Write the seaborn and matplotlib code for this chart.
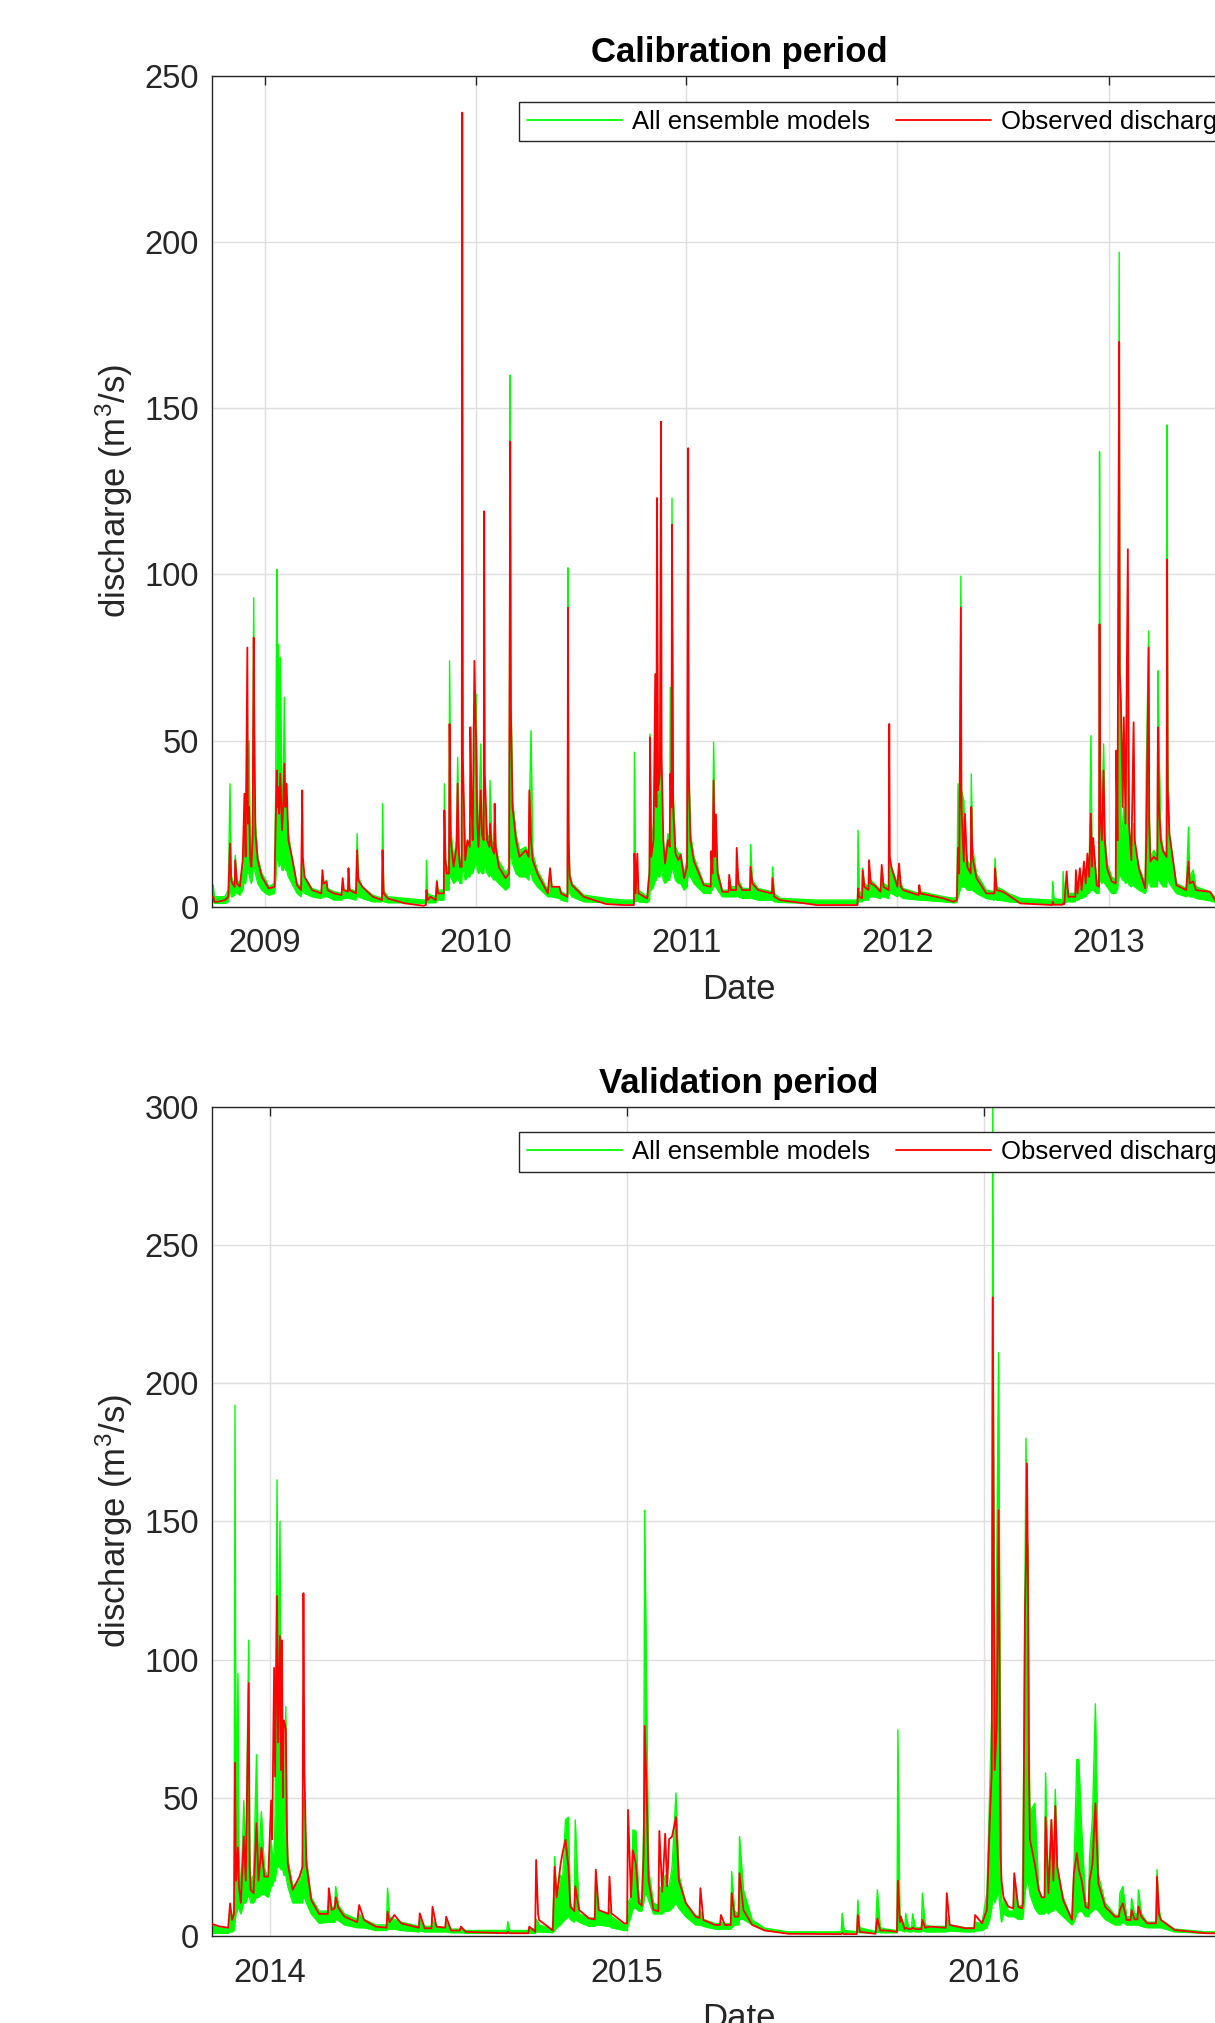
import matplotlib
matplotlib.use("Agg")
import matplotlib.pyplot as plt
import matplotlib.dates as mdates
from matplotlib.lines import Line2D
import seaborn as sns
import pandas as pd

# ---- calibration period (Oct 2008 - Sep 2013), discharge in m3/s ----
cal_dates = [
    "2008-10-01", "2008-10-04", "2008-10-06", "2008-10-13", "2008-10-24", "2008-10-30", "2008-11-02", "2008-11-04",
    "2008-11-06", "2008-11-11", "2008-11-14", "2008-11-19", "2008-11-24", "2008-11-27", "2008-11-29", "2008-12-02",
    "2008-12-03", "2008-12-05", "2008-12-07", "2008-12-09", "2008-12-11", "2008-12-13", "2008-12-14", "2008-12-16",
    "2008-12-20", "2008-12-27", "2009-01-03", "2009-01-08", "2009-01-18", "2009-01-20", "2009-01-22", "2009-01-23",
    "2009-01-25", "2009-01-26", "2009-01-28", "2009-01-31", "2009-02-02", "2009-02-04", "2009-02-06", "2009-02-08",
    "2009-02-11", "2009-02-17", "2009-02-26", "2009-03-05", "2009-03-07", "2009-03-08", "2009-03-11", "2009-03-24",
    "2009-04-09", "2009-04-11", "2009-04-13", "2009-04-18", "2009-04-20", "2009-05-01", "2009-05-14", "2009-05-16",
    "2009-05-18", "2009-05-26", "2009-05-28", "2009-06-08", "2009-06-10", "2009-06-12", "2009-06-19", "2009-07-07",
    "2009-07-23", "2009-07-24", "2009-07-26", "2009-08-02", "2009-09-01", "2009-10-03", "2009-10-07", "2009-10-08",
    "2009-10-10", "2009-10-15", "2009-10-24", "2009-10-26", "2009-10-28", "2009-11-01", "2009-11-08", "2009-11-10",
    "2009-11-12", "2009-11-17", "2009-11-19", "2009-11-24", "2009-11-29", "2009-12-01", "2009-12-03", "2009-12-05",
    "2009-12-09", "2009-12-10", "2009-12-14", "2009-12-18", "2009-12-23", "2009-12-25", "2009-12-27", "2009-12-30",
    "2010-01-02", "2010-01-04", "2010-01-06", "2010-01-10", "2010-01-12", "2010-01-16", "2010-01-17", "2010-01-21",
    "2010-01-26", "2010-01-29", "2010-02-03", "2010-02-05", "2010-02-10", "2010-02-22", "2010-02-28", "2010-03-02",
    "2010-03-03", "2010-03-06", "2010-03-12", "2010-03-18", "2010-03-29", "2010-04-04", "2010-04-07", "2010-04-10",
    "2010-04-18", "2010-05-06", "2010-05-10", "2010-05-13", "2010-05-26", "2010-05-29", "2010-06-09", "2010-06-10",
    "2010-06-11", "2010-06-13", "2010-06-17", "2010-07-07", "2010-08-15", "2010-09-15", "2010-10-02", "2010-10-03",
    "2010-10-05", "2010-10-08", "2010-10-10", "2010-10-25", "2010-10-29", "2010-10-30", "2010-11-01", "2010-11-05",
    "2010-11-08", "2010-11-10", "2010-11-11", "2010-11-13", "2010-11-16", "2010-11-18", "2010-11-19", "2010-11-22",
    "2010-11-25", "2010-11-30", "2010-12-04", "2010-12-06", "2010-12-07", "2010-12-09", "2010-12-13", "2010-12-18",
    "2010-12-22", "2010-12-28", "2011-01-02", "2011-01-04", "2011-01-05", "2011-01-08", "2011-01-14", "2011-01-31",
    "2011-02-13", "2011-02-15", "2011-02-17", "2011-02-19", "2011-02-21", "2011-02-24", "2011-03-04", "2011-03-16",
    "2011-03-19", "2011-03-29", "2011-04-01", "2011-04-08", "2011-04-22", "2011-04-25", "2011-05-05", "2011-05-30",
    "2011-06-02", "2011-06-12", "2011-08-15", "2011-10-24", "2011-10-25", "2011-10-27", "2011-11-02", "2011-11-05",
    "2011-11-13", "2011-11-16", "2011-11-22", "2011-12-03", "2011-12-05", "2011-12-08", "2011-12-18", "2011-12-19",
    "2011-12-22", "2012-01-01", "2012-01-04", "2012-01-07", "2012-01-11", "2012-02-08", "2012-02-10", "2012-03-21",
    "2012-04-07", "2012-04-13", "2012-04-15", "2012-04-17", "2012-04-20", "2012-04-21", "2012-04-25", "2012-04-27",
    "2012-05-01", "2012-05-08", "2012-05-10", "2012-05-17", "2012-06-03", "2012-06-18", "2012-06-21", "2012-07-02",
    "2012-07-11", "2012-08-01", "2012-09-25", "2012-09-26", "2012-09-28", "2012-10-13", "2012-10-14", "2012-10-16",
    "2012-10-20", "2012-10-23", "2012-11-05", "2012-11-08", "2012-11-12", "2012-11-15", "2012-11-19", "2012-11-22",
    "2012-11-25", "2012-11-28", "2012-12-01", "2012-12-03", "2012-12-05", "2012-12-11", "2012-12-16", "2012-12-17",
    "2012-12-20", "2012-12-23", "2012-12-25", "2012-12-29", "2013-01-06", "2013-01-14", "2013-01-16", "2013-01-19",
    "2013-01-20", "2013-01-22", "2013-01-25", "2013-01-27", "2013-01-30", "2013-02-03", "2013-02-05", "2013-02-09",
    "2013-02-13", "2013-02-15", "2013-02-22", "2013-03-05", "2013-03-07", "2013-03-11", "2013-03-12", "2013-03-14",
    "2013-03-20", "2013-03-27", "2013-03-29", "2013-04-01", "2013-04-05", "2013-04-12", "2013-04-13", "2013-04-16",
    "2013-04-28", "2013-05-15", "2013-05-19", "2013-05-21", "2013-05-27", "2013-06-01", "2013-06-25", "2013-07-06",
    "2013-08-15", "2013-09-30",
]
cal_observed = [
    3, 3, 1.5, 1.5, 2, 3, 19, 8,
    7, 14, 7, 6, 14, 34, 15, 78,
    25, 30, 14, 12, 20, 81, 57, 22,
    14, 9, 7, 5.5, 6, 25, 41, 30,
    36, 28, 40, 23, 30, 43, 30, 37,
    20, 15, 6.5, 5, 35, 15, 9, 5,
    4, 11, 7, 7.5, 5, 4, 3.5, 8.6,
    5, 11.6, 5, 4, 17, 8, 6, 3,
    2, 17, 4, 2.5, 1, 0.3, 0.5, 5,
    2, 3, 2, 7.6, 4, 4, 29, 14,
    10, 55, 20, 12, 18, 37, 16, 12,
    239, 45, 14, 20, 54, 30, 20, 74,
    48, 25, 18, 35, 22, 119, 40, 20,
    25, 18, 31, 18, 12, 8.6, 10, 140,
    60, 30, 20, 15, 17, 35, 20, 14,
    10, 4, 11.6, 6, 6, 4, 3, 90,
    20, 9, 6.5, 3, 0.8, 0.5, 0.5, 16,
    4, 16, 4, 2.5, 10, 51, 15, 20,
    70, 30, 123, 35, 40, 146, 45, 20,
    13, 20, 40, 30, 115, 30, 16, 14,
    15.6, 8.6, 12, 138, 40, 20, 13.6, 6.5,
    16.7, 10, 38, 15, 27.8, 10, 4.5, 9.6,
    5, 17.7, 7, 5, 12, 7, 5, 8.6,
    3, 2, 0.5, 0.5, 5.5, 3, 11, 6,
    14, 7, 6.5, 4.5, 12.6, 6, 55, 15,
    11.6, 6, 13, 6, 5, 6.5, 4, 2.5,
    1.5, 2, 17.7, 10, 90, 30, 13.6, 28,
    12, 30, 15, 8.6, 4, 11.6, 5, 4.5,
    3.5, 1, 0.5, 1.5, 0.6, 0.6, 1, 0.8,
    10.6, 3, 11, 4, 11.6, 5, 13.6, 7,
    16, 9, 28, 12, 20.7, 6.5, 85, 30,
    20, 41, 20, 11.6, 7.6, 47, 20, 170,
    70, 62, 30, 57, 25, 107.6, 25, 14,
    55.5, 20, 11.6, 5.5, 20, 78, 25, 13.6,
    15, 54, 30, 20, 16.7, 104.5, 35, 21.7,
    6.5, 5, 13.6, 7, 7.6, 5, 4.5, 1.5,
    0.8, 0.5,
]
cal_ens_high = [
    4, 6.5, 3, 3, 3, 5, 37, 10,
    8, 15.5, 8, 7, 12, 20, 14, 60,
    30, 50, 18, 14, 25, 93, 35, 25,
    15, 10, 8, 6, 7, 35, 101.5, 60,
    79, 45, 75, 30, 35, 63, 30, 30,
    22, 15, 7, 6, 15, 10, 9, 5.5,
    4.5, 8, 7, 8, 5.5, 4.5, 4, 7,
    5, 9, 5.5, 4.5, 22, 9, 6, 3.5,
    2.5, 31, 5, 3, 2.5, 2, 2, 14,
    4, 3.5, 3, 8, 5, 5, 37, 14,
    12, 74, 24, 14, 20, 45, 18, 14,
    85, 40, 16, 20, 25, 22, 20, 45,
    64, 28, 22, 49, 25, 43, 30, 22,
    38, 20, 25, 18, 14, 10, 12, 160,
    70, 32, 22, 17, 18, 28, 53, 16,
    11, 5, 9, 6, 6, 4.5, 3.5, 102,
    25, 10, 7, 3.5, 2.5, 2, 2, 46.5,
    6, 10, 5, 3, 12, 52, 18, 25,
    40, 30, 50, 30, 35, 65, 35, 18,
    14, 22, 66, 30, 123, 35, 18, 16,
    16, 10, 14, 54, 45, 22, 15, 7,
    14, 12, 49.5, 20, 18, 11, 5, 8,
    6, 12, 8, 5.5, 18.7, 8, 5.5, 12,
    4, 2.5, 2, 2, 23, 5, 11.6, 7,
    12, 8, 7, 5, 11, 7, 15, 12,
    12, 7, 12, 7, 5.5, 6, 4.5, 3,
    2.5, 3, 37, 15, 99.5, 35, 32, 20,
    14, 40, 18, 10, 5, 14.6, 6, 5,
    4, 2.5, 2, 7.6, 2.5, 2, 10.6, 3,
    6, 4, 8, 5, 10, 6, 12, 8,
    14, 10, 51.5, 15, 18, 8, 137, 45,
    25, 49, 22, 13, 9, 19.7, 15, 197,
    80, 21.7, 25, 30, 22, 60, 20, 14,
    25, 18, 12, 7, 43, 83, 30, 15,
    17, 71, 49, 22, 17, 145, 45, 22,
    7, 5.5, 24, 9, 11, 6, 4.5, 2.5,
    2, 2,
]
cal_ens_low = [
    1.5, 1.5, 1, 1, 1, 1.5, 6, 3,
    3, 5, 4, 3.5, 5, 8, 7, 12,
    10, 10, 8, 7, 9, 15, 12, 10,
    7, 5, 4, 3.5, 4, 8, 15, 14,
    14, 12, 14, 11, 11, 13, 11, 11,
    9, 7, 4, 3, 5, 5, 4, 3,
    2.5, 3, 3, 3, 3, 2, 2, 2.5,
    2.5, 3, 2.5, 2, 4, 3, 2.5, 1.5,
    1.5, 2, 1.5, 1.2, 1.2, 1, 1, 1.5,
    1.2, 1.2, 1.2, 2, 2, 2, 5, 5,
    5, 10, 9, 7, 8, 9, 8, 7,
    12, 12, 8, 9, 10, 10, 10, 12,
    14, 11, 10, 11, 10, 13, 12, 10,
    10, 9, 9, 8, 7, 5, 6, 18,
    16, 13, 10, 9, 9, 10, 10, 8,
    6, 3, 3, 3, 2.5, 2, 1.5, 6,
    5, 4, 3, 1.5, 1.2, 1, 1, 2,
    1.5, 2, 1.5, 1.2, 2, 5, 5, 6,
    8, 8, 10, 9, 9, 12, 11, 8,
    7, 8, 10, 10, 13, 11, 8, 7,
    7, 5, 6, 10, 10, 9, 7, 4,
    5, 5, 7, 6, 6, 5, 3, 3,
    3, 3.5, 3, 2.5, 3, 2.5, 2, 2,
    1.5, 1.3, 1, 1, 1.5, 1.5, 2, 2,
    3, 3, 3, 2.5, 3, 3, 4, 4,
    4, 3, 4, 3, 2.5, 2, 2, 1.5,
    1.2, 1.3, 3, 4, 6, 6, 6, 6,
    5, 6, 5, 4, 2.5, 2.5, 2, 1.8,
    1.5, 1.2, 1, 1.2, 1, 1, 1.2, 1,
    1.5, 1.5, 2, 2, 2.5, 2.5, 3, 3,
    4, 4, 5, 5, 5, 4, 8, 8,
    7, 8, 7, 6, 4, 5, 5, 10,
    10, 9, 8, 8, 7, 8, 6.5, 6,
    7, 6, 5, 4, 5, 8, 8, 6,
    6, 9, 8, 7, 6, 10, 9, 7,
    4, 3, 3.5, 3, 3, 2.5, 1.8, 1.2,
    1, 1,
]
# low-flow days just before each rise (keeps the spikes narrow)
cal_rise_dates = [
    "2008-11-10", "2009-05-25", "2009-11-07", "2009-11-16", "2009-12-08", "2009-12-22", "2010-01-15", "2010-01-25",
    "2010-02-02", "2010-04-03", "2010-12-03", "2011-02-12", "2011-03-15", "2011-03-28", "2011-04-21", "2011-05-29",
    "2011-11-01", "2011-11-12", "2011-12-17", "2012-02-07", "2012-05-07", "2012-06-17", "2012-11-04", "2012-12-15",
    "2013-01-13", "2013-03-26", "2013-04-11",
]
cal_rise_observed = [
    6, 4.5, 4, 10, 12, 18, 20, 18,
    16, 15, 18, 6, 4.5, 5, 5, 4,
    2.5, 5, 5, 3.5, 10, 4, 3, 6,
    7, 14, 15,
]
cal_rise_high = [
    7, 5, 5, 12, 14, 18, 22, 20,
    18, 16, 20, 7, 5, 6, 5.5, 4.5,
    3, 6, 6, 4, 12, 4.5, 4, 7,
    8, 15, 16,
]
cal_rise_low = [
    3.5, 2.5, 2, 5, 7, 9, 10, 9,
    8, 8, 8, 4, 3, 3, 2.5, 2,
    1.5, 2, 2.5, 2, 5, 2, 1.5, 4,
    4, 6, 6,
]

# ---- validation period (Nov 2013 - Oct 2016) ----
val_dates = [
    "2013-11-01", "2013-11-10", "2013-11-19", "2013-11-21", "2013-11-23", "2013-11-25", "2013-11-26", "2013-11-27",
    "2013-11-29", "2013-11-30", "2013-12-02", "2013-12-05", "2013-12-07", "2013-12-10", "2013-12-11", "2013-12-12",
    "2013-12-15", "2013-12-18", "2013-12-20", "2013-12-23", "2013-12-26", "2013-12-30", "2014-01-02", "2014-01-03",
    "2014-01-05", "2014-01-06", "2014-01-08", "2014-01-09", "2014-01-11", "2014-01-12", "2014-01-13", "2014-01-14",
    "2014-01-15", "2014-01-17", "2014-01-18", "2014-01-19", "2014-01-24", "2014-01-31", "2014-02-03", "2014-02-04",
    "2014-02-05", "2014-02-07", "2014-02-12", "2014-02-20", "2014-03-01", "2014-03-02", "2014-03-05", "2014-03-08",
    "2014-03-09", "2014-03-12", "2014-03-18", "2014-03-31", "2014-04-02", "2014-04-07", "2014-04-19", "2014-04-30",
    "2014-05-01", "2014-05-03", "2014-05-08", "2014-05-15", "2014-06-02", "2014-06-03", "2014-06-08", "2014-06-16",
    "2014-06-20", "2014-06-30", "2014-07-05", "2014-07-15", "2014-07-20", "2014-08-31", "2014-09-01", "2014-09-03",
    "2014-09-23", "2014-09-29", "2014-09-30", "2014-10-02", "2014-10-03", "2014-10-17", "2014-10-19", "2014-10-21",
    "2014-10-25", "2014-10-27", "2014-10-30", "2014-11-02", "2014-11-04", "2014-11-09", "2014-11-13", "2014-11-23",
    "2014-11-30", "2014-12-03", "2014-12-14", "2014-12-16", "2014-12-29", "2015-01-02", "2015-01-05", "2015-01-07",
    "2015-01-10", "2015-01-13", "2015-01-16", "2015-01-18", "2015-01-19", "2015-01-21", "2015-01-23", "2015-01-28",
    "2015-02-03", "2015-02-06", "2015-02-09", "2015-02-11", "2015-02-13", "2015-02-16", "2015-02-20", "2015-02-23",
    "2015-03-02", "2015-03-12", "2015-03-17", "2015-03-20", "2015-04-01", "2015-04-07", "2015-04-11", "2015-04-18",
    "2015-04-21", "2015-04-26", "2015-04-30", "2015-05-09", "2015-05-22", "2015-06-15", "2015-08-08", "2015-08-09",
    "2015-08-11", "2015-08-24", "2015-08-25", "2015-08-27", "2015-09-12", "2015-09-14", "2015-09-17", "2015-09-23",
    "2015-10-04", "2015-10-05", "2015-10-07", "2015-10-08", "2015-10-13", "2015-10-16", "2015-10-20", "2015-10-23",
    "2015-10-30", "2015-11-02", "2015-11-07", "2015-11-24", "2015-11-27", "2015-12-13", "2015-12-23", "2015-12-30",
    "2016-01-04", "2016-01-07", "2016-01-09", "2016-01-10", "2016-01-12", "2016-01-14", "2016-01-16", "2016-01-18",
    "2016-01-19", "2016-01-21", "2016-01-26", "2016-02-01", "2016-02-05", "2016-02-10", "2016-02-12", "2016-02-13",
    "2016-02-14", "2016-02-15", "2016-02-16", "2016-02-17", "2016-02-22", "2016-02-26", "2016-02-29", "2016-03-04",
    "2016-03-07", "2016-03-10", "2016-03-12", "2016-03-14", "2016-03-16", "2016-03-22", "2016-03-31", "2016-04-02",
    "2016-04-05", "2016-04-07", "2016-04-10", "2016-04-14", "2016-04-18", "2016-04-21", "2016-04-24", "2016-04-27",
    "2016-05-04", "2016-05-14", "2016-05-19", "2016-05-22", "2016-05-26", "2016-05-31", "2016-06-03", "2016-06-07",
    "2016-06-10", "2016-06-16", "2016-06-26", "2016-06-28", "2016-06-30", "2016-07-14", "2016-08-15", "2016-10-15",
]
val_observed = [
    4.5, 3.5, 3, 11.8, 5.8, 8, 62.6, 20,
    32, 18, 12, 36, 20, 91.5, 25, 16.7,
    15.5, 40.8, 20, 32, 21.5, 21.5, 49, 35,
    97, 57.7, 123, 70, 108.5, 60, 107, 50,
    78, 75, 40, 26, 16.7, 21.5, 25, 124,
    60, 26, 13, 8, 8, 17.3, 9.4, 10,
    14, 10, 7, 5, 11.2, 5.8, 3.4, 3,
    8.8, 5, 7.6, 4.6, 3, 8.2, 2.8, 10.6,
    3.4, 7, 2, 3.4, 1.5, 1, 1.5, 1,
    3.4, 1.5, 27.5, 8, 5.8, 2, 25, 14,
    26, 30, 34.8, 25, 10.6, 18, 9.4, 6.4,
    24, 9.4, 21.5, 8.2, 4.6, 45.6, 14, 31,
    26, 12, 11, 30, 76, 53, 20, 9.4,
    38, 16, 37, 18, 35, 36, 43, 20,
    12, 7, 17.3, 5.8, 4, 7.6, 4, 15.5,
    7, 22.7, 9.4, 4, 2, 0.8, 0.7, 1,
    0.7, 0.7, 7.6, 1.5, 0.8, 6.4, 2, 2,
    1.5, 20, 5, 7, 3, 2.5, 3, 2.5,
    5.8, 3, 3.4, 15.5, 4, 2.8, 7.6, 4.6,
    9.4, 42, 60, 231, 60, 75, 154, 30,
    20, 14, 10.6, 22.7, 10.6, 12, 119, 135,
    171, 130, 60, 35, 26, 16.7, 14, 43,
    15.5, 42, 20, 47, 25, 13, 5.8, 22.7,
    30, 24, 20, 10.6, 20, 26, 48, 19,
    10.6, 7, 9.4, 11.8, 5.8, 9.4, 6, 10.6,
    7, 4.6, 21.5, 8, 5.8, 2.2, 1, 0.8,
]
val_ens_high = [
    4, 3, 2.5, 8, 6, 10, 192, 40,
    95, 30, 14, 49, 25, 107, 30, 20,
    22, 65.6, 25, 45, 25, 20, 35, 30,
    30, 45, 165, 90, 150, 70, 99, 45,
    33.6, 83, 40, 28, 18, 20, 25, 50,
    45, 28, 14, 9, 9, 14, 10, 11,
    17.9, 11, 8, 6, 8, 6, 4, 4,
    17.3, 7, 6, 5, 3.5, 6, 3.5, 6,
    3.5, 5, 2.5, 3, 2, 2, 5.2, 2,
    3, 2.5, 6, 5, 4, 2.5, 28.7, 14,
    22, 20, 42, 43, 12, 42, 8, 6.5,
    22.7, 9, 10, 7, 4, 12, 14, 38.4,
    38, 14, 12, 40, 154, 89, 24, 12,
    18, 16, 22, 18, 18, 25, 51.7, 22,
    12, 7.5, 9, 6, 4.5, 5, 4.5, 23.3,
    9, 36, 16.7, 5.8, 2.8, 1.5, 1.5, 8.2,
    2, 1.5, 13, 3, 1.6, 16.7, 3, 2.5,
    2, 74.6, 8, 7, 8.2, 3, 8, 3,
    15.5, 4, 3.5, 7, 4, 3, 5, 4.5,
    15.5, 54, 80, 300, 40, 133, 211, 60,
    5.8, 14, 9, 21, 11, 32, 134, 180,
    146, 140, 80, 45, 48, 17, 14, 59,
    16, 42, 25, 53, 25, 14, 6, 24,
    63.8, 63.8, 38, 12, 28.7, 43, 84, 22,
    12, 7.5, 15.5, 17.9, 7, 13.6, 8, 16.7,
    8, 5, 24, 10, 6, 2.5, 1.5, 1.5,
]
val_ens_low = [
    1, 1, 1, 1.5, 1.5, 2, 5, 8,
    10, 10, 8, 12, 12, 15, 14, 12,
    12, 14, 14, 15, 15, 14, 18, 18,
    20, 20, 25, 25, 25, 24, 24, 24,
    22, 22, 20, 18, 12, 12, 12, 14,
    14, 12, 8, 4.6, 5, 5, 5, 5,
    6, 5.5, 4, 3, 3, 3, 2, 2,
    2.5, 2.5, 2.5, 2, 1.5, 1.8, 1.5, 1.5,
    1.5, 1.5, 1.2, 1.2, 1, 1, 1, 1,
    1, 1, 1.5, 1.5, 1.5, 1.2, 2, 3,
    4, 5, 6, 7, 6, 6, 5, 3.5,
    4, 4, 3.5, 3, 2, 4, 7, 10,
    10, 9, 9, 12, 15, 15, 13, 8,
    8, 8, 9, 9, 9, 10, 12, 10,
    7, 4, 4, 3.5, 2.5, 2.5, 2.5, 3,
    4, 6, 6, 4, 2, 1.2, 1.2, 1.2,
    1.2, 1.2, 1.5, 1.2, 1.2, 1.5, 1.2, 1.2,
    1.2, 2, 2, 2, 2, 1.5, 1.8, 1.5,
    2, 1.5, 1.5, 1.8, 1.8, 1.5, 1.8, 2,
    3, 6, 10, 15, 12, 14, 16, 8,
    5, 8, 7, 7, 6, 7, 15, 18,
    20, 20, 18, 15, 10, 8, 8, 9,
    8, 9, 9, 10, 9, 7, 4, 5,
    8, 9, 9, 7, 8, 9, 10, 9,
    6, 4, 4, 5, 4, 4, 4, 4,
    3.5, 3, 3, 3, 3, 1.5, 1, 1,
]
val_rise_dates = [
    "2014-06-15", "2014-06-29", "2014-07-14", "2014-09-22", "2014-11-08", "2014-11-29", "2014-12-13", "2015-01-01",
    "2015-02-02", "2015-03-16", "2015-04-06", "2015-04-17", "2015-04-25", "2015-10-12", "2015-10-19", "2015-10-29",
    "2015-11-23", "2015-12-22", "2016-01-31", "2016-02-09", "2016-03-03", "2016-04-17", "2016-05-18", "2016-05-30",
    "2016-06-06", "2016-06-25",
]
val_rise_observed = [
    2.8, 3, 2, 1, 9, 6, 8, 4.5,
    9, 6.5, 4, 4, 7, 2.5, 2.5, 2.5,
    3, 2.8, 10, 10, 14, 10, 7, 5.8,
    6, 4.6,
]
val_rise_high = [
    3.5, 3, 2.5, 2, 8, 6.5, 8, 4,
    11, 7, 4.5, 4.5, 8, 3, 3, 3,
    3.5, 3, 9, 11, 14, 12, 7.5, 7,
    8, 5,
]
val_rise_low = [
    1.5, 1.5, 1.2, 1, 5, 3.5, 3.5, 2,
    8, 4, 2.5, 2.5, 4, 1.5, 1.5, 1.5,
    1.5, 1.5, 7, 6, 8, 7, 4, 4,
    4, 3,
]

cal_xlim = ("2008-10-01", "2013-10-01")
val_xlim = ("2013-11-02", "2016-10-16")
cal_yticks = [0, 50, 100, 150, 200, 250]
val_yticks = [0, 50, 100, 150, 200, 250, 300]

GREEN = "#00ff00"
RED = "#ff0000"
INK = "#262626"


def set_style():
    """MATLAB-like look on top of seaborn."""
    sns.set_theme(style="white")
    plt.rcParams.update({
        "font.family": ["Liberation Sans", "DejaVu Sans"],
        "mathtext.fontset": "custom",
        "mathtext.rm": "Liberation Sans",
        "mathtext.it": "Liberation Sans",
        "mathtext.bf": "Liberation Sans:bold",
        "axes.edgecolor": INK,
        "axes.linewidth": 1.0,
        "text.color": INK,
        "axes.labelcolor": INK,
        "xtick.color": INK,
        "ytick.color": INK,
    })


def build_frame(dates, observed, high, low, rise_dates, rise_obs, rise_high, rise_low):
    df = pd.DataFrame({
        "date": pd.to_datetime(list(dates) + list(rise_dates)),
        "observed": list(observed) + list(rise_obs),
        "high": list(high) + list(rise_high),
        "low": list(low) + list(rise_low),
    })
    return df.sort_values("date").reset_index(drop=True)


def plot_period(ax, df, title, xlim, yticks):
    ax.fill_between(df["date"], df["low"], df["high"], color=GREEN, linewidth=0, zorder=2)
    sns.lineplot(data=df, x="date", y="high", color=GREEN, linewidth=1.0, ax=ax, zorder=2)
    sns.lineplot(data=df, x="date", y="low", color=GREEN, linewidth=1.0, ax=ax, zorder=2)
    sns.lineplot(data=df, x="date", y="observed", color=RED, linewidth=1.3, ax=ax, zorder=3)

    ax.set_xlim(pd.Timestamp(xlim[0]), pd.Timestamp(xlim[1]))
    ax.set_ylim(yticks[0], yticks[-1])
    ax.set_yticks(yticks)
    ax.xaxis.set_major_locator(mdates.YearLocator())
    ax.xaxis.set_major_formatter(mdates.DateFormatter("%Y"))

    ax.grid(True, color="#dedede", linewidth=1.0)
    ax.set_axisbelow(True)
    ax.tick_params(direction="in", length=6.5, width=1.0, top=True, right=True,
                   labelsize=23.5, colors=INK)
    ax.tick_params(axis="x", pad=15.5)
    ax.tick_params(axis="y", pad=9)
    for s in ax.spines.values():
        s.set_color(INK)
        s.set_linewidth(1.0)

    ax.set_title(title, fontsize=25, fontweight="bold", color="black", pad=10)
    ax.set_xlabel("Date", fontsize=25, labelpad=10)
    ax.set_ylabel("discharge (m$^3$/s)", fontsize=25, labelpad=7)

    handles = [Line2D([], [], color=GREEN, linewidth=1.3),
               Line2D([], [], color=RED, linewidth=1.3)]
    leg = ax.legend(handles, ["All ensemble models", "Observed discharge"],
                    loc="upper left", bbox_to_anchor=(0.2915, 0.969), borderaxespad=0,
                    ncol=2, fontsize=18.5, frameon=True, fancybox=False, shadow=False,
                    framealpha=1, edgecolor=INK, borderpad=0.3, handlelength=3.7,
                    handletextpad=0.4, columnspacing=1.0)
    leg.get_frame().set_linewidth(1.0)
    for t in leg.get_texts():
        t.set_color("black")


set_style()
fig = plt.figure(figsize=(12.15, 20.23), dpi=100)
ax_cal = fig.add_axes([0.1741, 0.5518, 0.8683, 0.4106])
ax_val = fig.add_axes([0.1741, 0.0430, 0.8683, 0.4100])

cal_df = build_frame(cal_dates, cal_observed, cal_ens_high, cal_ens_low,
                     cal_rise_dates, cal_rise_observed, cal_rise_high, cal_rise_low)
val_df = build_frame(val_dates, val_observed, val_ens_high, val_ens_low,
                     val_rise_dates, val_rise_observed, val_rise_high, val_rise_low)

plot_period(ax_cal, cal_df, "Calibration period", cal_xlim, cal_yticks)
plot_period(ax_val, val_df, "Validation period", val_xlim, val_yticks)

fig.savefig("out.png", dpi=100, facecolor="white")
